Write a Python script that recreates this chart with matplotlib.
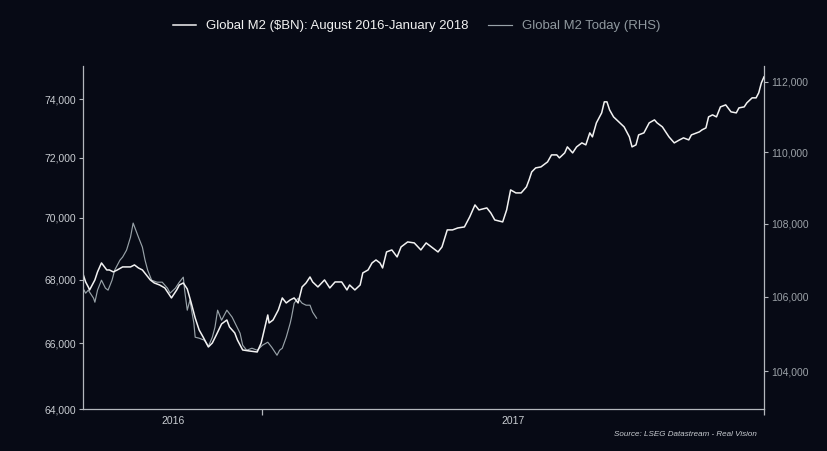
import matplotlib
matplotlib.use("Agg")
import matplotlib.pyplot as plt
import matplotlib.ticker as mticker
import matplotlib.dates as mdates
import pandas as pd

# data: days since 2016-08-18, values in $BN
start = pd.Timestamp("2016-08-18")
end = pd.Timestamp("2018-01-16")

m2_days = [0, 2, 4, 5, 9, 11, 14, 18, 20, 23, 26, 30, 36, 39, 42, 45, 48, 51, 54, 58,
           62, 67, 71, 73, 76, 79, 82, 85, 88, 91, 95, 98, 101, 105, 109, 111, 115, 117, 121, 126,
           132, 135, 140, 141, 144, 148, 151, 154, 157, 160, 163, 166, 169, 172, 174, 178, 183, 187, 191, 196,
           200, 202, 206, 210, 212, 216, 219, 222, 225, 227, 230, 234, 238, 241, 246, 251, 256, 260, 264, 269,
           272, 276, 280, 284, 289, 293, 297, 300, 306, 309, 312, 315, 318, 321, 324, 328, 332, 336, 338, 340,
           343, 347, 349, 352, 355, 359, 361, 365, 367, 371, 374, 378, 381, 384, 386, 389, 393, 395, 397, 399,
           402, 406, 410, 414, 416, 419, 421, 425, 429, 433, 435, 439, 442, 444, 448, 452, 455, 459, 461, 467,
           469, 472, 474, 477, 480, 483, 487, 491, 495, 497, 501, 503, 507, 510, 512, 514, 516]
m2_then = [68182, 67926, 67767, 67672, 67990, 68246, 68534, 68309, 68309, 68246, 68309, 68406, 68406, 68470, 68373, 68309, 68150, 67990, 67894, 67830,
           67735, 67419, 67672, 67830, 67894, 67704, 67261, 66789, 66415, 66197, 65888, 66011, 66259, 66602, 66726, 66508, 66321, 66104, 65795, 65764,
           65733, 66011, 66883, 66633, 66726, 67040, 67419, 67261, 67356, 67419, 67261, 67767, 67894, 68085, 67926, 67767, 67990, 67735, 67926, 67926,
           67672, 67830, 67672, 67830, 68214, 68309, 68534, 68630, 68534, 68373, 68888, 68953, 68727, 69050, 69212, 69180, 68953, 69180, 69050, 68888,
           69050, 69603, 69603, 69667, 69700, 70028, 70423, 70258, 70324, 70159, 69929, 69896, 69864, 70258, 70920, 70820, 70820, 71020, 71254, 71521,
           71655, 71689, 71756, 71857, 72093, 72093, 71992, 72161, 72365, 72161, 72365, 72500, 72433, 72841, 72705, 73183, 73527, 73908, 73908, 73630,
           73389, 73218, 73046, 72705, 72365, 72433, 72772, 72841, 73183, 73286, 73183, 73046, 72841, 72705, 72500, 72602, 72671, 72602, 72772, 72875,
           72943, 73011, 73389, 73458, 73389, 73734, 73803, 73562, 73527, 73699, 73734, 73873, 74046, 74046, 74220, 74568, 74778]

today_days = [0, 2, 4, 8, 9, 11, 14, 17, 19, 22, 24, 28, 30, 33, 36, 38, 42, 45, 47, 49,
              52, 56, 60, 64, 66, 70, 73, 76, 77, 79, 81, 84, 85, 88, 92, 95, 98, 100, 102, 105,
              109, 113, 116, 119, 121, 124, 128, 132, 136, 140, 143, 147, 149, 151, 154, 157, 158, 160, 163, 166,
              169, 172, 174, 177]
m2_today = [106235, 106099, 106181, 105963, 105854, 106181, 106452, 106235, 106181, 106452, 106726, 106999, 107082, 107274, 107632, 108019, 107632, 107356, 106999, 106726,
            106452, 106398, 106398, 106235, 106099, 106235, 106398, 106535, 106181, 105638, 105909, 105288, 104910, 104883, 104829, 104668, 104910, 105178, 105638, 105367,
            105638, 105449, 105232, 105017, 104695, 104561, 104614, 104561, 104695, 104776, 104641, 104427, 104561, 104614, 104910, 105288, 105449, 105827, 105963, 105827,
            105773, 105773, 105584, 105422]

left_ticks = [64000, 66000, 68000, 70000, 72000, 74000]
right_ticks = [104000, 106000, 108000, 110000, 112000]

then_label = "Global M2 ($BN): August 2016-January 2018"
today_label = "Global M2 Today (RHS)"
source_text = "Source: LSEG Datastream - Real Vision"

bg = "#070a15"
spine_col = "#b4b8bd"
font = "Liberation Sans"

then_dates = start + pd.to_timedelta(m2_days, unit="D")
today_dates = start + pd.to_timedelta(today_days, unit="D")

fig = plt.figure(figsize=(8.28, 4.51), dpi=100, facecolor=bg)
ax = fig.add_axes([83 / 828, 1 - 409 / 451, (764 - 83) / 828, (409 - 66) / 451])
ax2 = ax.twinx()
ax.set_facecolor(bg)
ax.set_zorder(ax2.get_zorder() + 1)
ax.patch.set_visible(False)
ax2.set_facecolor(bg)

ax2.plot(today_dates, m2_today, color="#98a2a8", lw=0.85, label=today_label)
ax.plot(then_dates, m2_then, color="#f2f2f2", lw=1.1, label=then_label)

fmt = mticker.FuncFormatter(lambda v, p: f"{v:,.0f}")
for a, ticks, lim, col in [(ax, left_ticks, (64000, 75160), "#c9cdd2"),
                           (ax2, right_ticks, (103000, 112450), "#9ba1a7")]:
    a.set_yscale("log")
    a.set_ylim(*lim)
    a.yaxis.set_major_locator(mticker.FixedLocator(ticks))
    a.yaxis.set_minor_locator(mticker.NullLocator())
    a.yaxis.set_major_formatter(fmt)
    a.tick_params(axis="y", colors=spine_col, labelcolor=col, labelsize=7.5,
                  length=3, width=0.8, pad=2)
    for t in a.get_yticklabels():
        t.set_fontfamily(font)
    for s in a.spines.values():
        s.set_visible(False)

ax.spines["left"].set_visible(True)
ax.spines["bottom"].set_visible(True)
ax2.spines["right"].set_visible(True)
for s in [ax.spines["left"], ax.spines["bottom"], ax2.spines["right"]]:
    s.set_color(spine_col)
    s.set_linewidth(0.9)

ax.set_xlim(start, end)
ax.xaxis.set_major_locator(mticker.FixedLocator(mdates.date2num([pd.Timestamp("2017-01-01"), end])))
ax.xaxis.set_major_formatter(mticker.NullFormatter())
year_mid = [start + (pd.Timestamp("2017-01-01") - start) / 2,
            pd.Timestamp("2017-01-01") + (end - pd.Timestamp("2017-01-01")) / 2]
ax.xaxis.set_minor_locator(mticker.FixedLocator(mdates.date2num(year_mid)))
ax.xaxis.set_minor_formatter(mticker.FixedFormatter(["2016", "2017"]))
ax.tick_params(axis="x", which="major", colors=spine_col, length=4, width=0.9)
ax.tick_params(axis="x", which="minor", length=0, labelsize=7.5, labelcolor="#c9cdd2", pad=5)
for t in ax.get_xticklabels(minor=True):
    t.set_fontfamily(font)

h1, l1 = ax.get_legend_handles_labels()
h2, l2 = ax2.get_legend_handles_labels()
leg = fig.legend(h1 + h2, l1 + l2, loc="center", bbox_to_anchor=(0.503, 0.942), ncol=2,
                 frameon=False, handlelength=1.8, handletextpad=0.75, columnspacing=1.5,
                 prop={"family": font, "size": 9.45})
for txt, c in zip(leg.get_texts(), ["#f2f2f2", "#8f989e"]):
    txt.set_color(c)

fig.text(757 / 828, 1 - 435 / 451, source_text, ha="right", va="center", style="italic",
         fontsize=5.8, color="#c9cdd2", family=font)

fig.savefig("out.png", dpi=100, facecolor=bg)
